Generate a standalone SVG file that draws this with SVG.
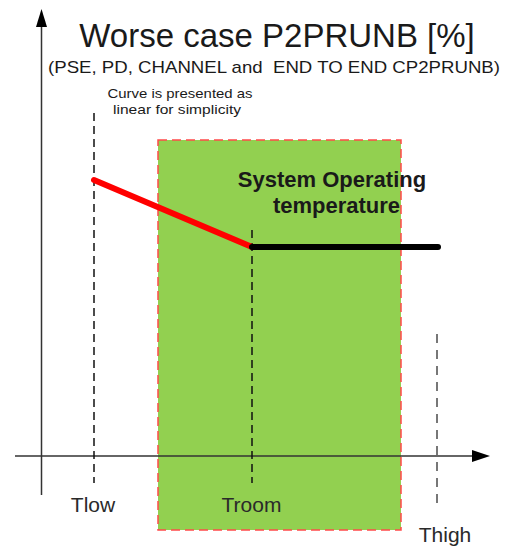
<svg xmlns="http://www.w3.org/2000/svg" width="506" height="546" viewBox="0 0 506 546">
<style>
text{font-family:"Liberation Sans",Arial,sans-serif;fill:#1a1a1a}
.lbl{font-size:21px;fill:#2a2a2a}
.guide{stroke:#111;stroke-width:1.5;stroke-dasharray:8 5;fill:none}
.axis{stroke:#333;stroke-width:1.5;fill:none}
</style>
<g id="operating-zone">
<rect x="158" y="140" width="243" height="390" fill="#92D050" stroke="#FF4a4a" stroke-width="1.5" stroke-dasharray="9 5"/>
</g>
<g id="connectors">
<line id="y-axis" class="axis" x1="41.5" y1="495" x2="41.5" y2="27"/>
<path d="M41.5,9 L47,27 L36,27 z" fill="#000"/>
<line id="x-axis" class="axis" x1="15" y1="456" x2="473" y2="456"/>
<path d="M490,456 L472,450 L472,462 z" fill="#000"/>
<line class="guide" x1="94" y1="113" x2="94" y2="483"/>
<line class="guide" x1="252" y1="230" x2="252" y2="483"/>
<line x1="437" y1="334" x2="437" y2="507" stroke="#777" stroke-width="2" stroke-dasharray="9 7"/>
<line x1="94" y1="180" x2="252" y2="247" stroke="#ff0000" stroke-width="6" stroke-linecap="round"/>
<line x1="252" y1="247" x2="438" y2="247" stroke="#000" stroke-width="6" stroke-linecap="round"/>
</g>
<g id="title">
<text x="277" y="47" font-size="33" text-anchor="middle">Worse case P2PRUNB [%]</text>
<text x="48" y="73" font-size="17" textLength="452" lengthAdjust="spacingAndGlyphs" xml:space="preserve">(PSE, PD, CHANNEL and  END TO END CP2PRUNB)</text>
</g>
<g id="note">
<text x="180" y="98" font-size="13.5" textLength="145" lengthAdjust="spacingAndGlyphs" text-anchor="middle" fill="#222">Curve is presented as</text>
<text x="177" y="114" font-size="13.5" textLength="128" lengthAdjust="spacingAndGlyphs" text-anchor="middle" fill="#222">linear for simplicity</text>
</g>
<g id="zone-label">
<text x="332" y="187" font-size="22" font-weight="bold" text-anchor="middle" fill="#111">System Operating</text>
<text x="336.5" y="213" font-size="22" font-weight="bold" text-anchor="middle" fill="#111">temperature</text>
</g>
<g id="tlow"><text class="lbl" x="93" y="512" text-anchor="middle">Tlow</text></g>
<g id="troom"><text class="lbl" x="251.5" y="512" text-anchor="middle">Troom</text></g>
<g id="thigh"><text class="lbl" x="445" y="542" text-anchor="middle">Thigh</text></g>
</svg>
